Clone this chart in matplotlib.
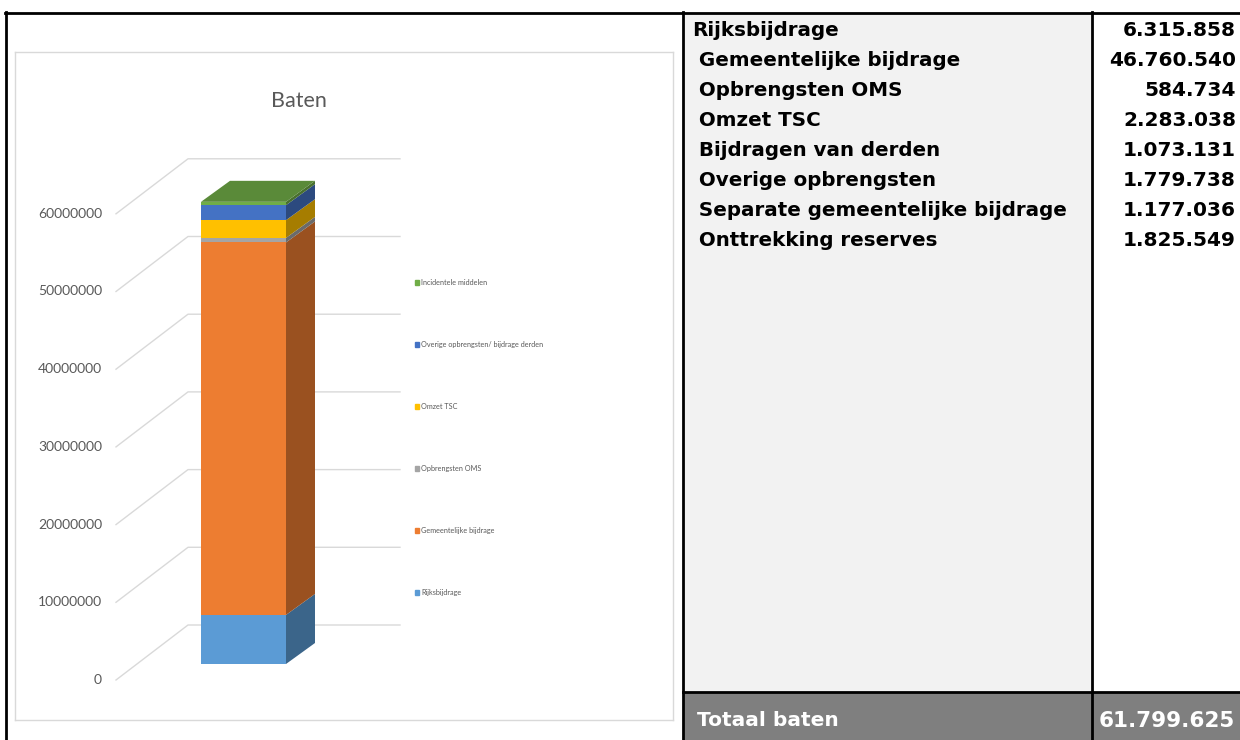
import numpy as np
import matplotlib.pyplot as plt
from matplotlib.patches import Polygon, Rectangle
from matplotlib.colors import to_rgb

series = ['Rijksbijdrage', 'Gemeentelijke bijdrage', 'Opbrengsten OMS', 'Omzet TSC',
          'Overige opbrengsten/ bijdrage derden', 'Incidentele middelen']
series_val = [6315858, 47937576, 584734, 2283038, 1930000, 430000]
colors = ['#5b9bd5', '#ed7d31', '#a5a5a5', '#ffc000', '#4472c4', '#70ad47']
yticks = [0, 10000000, 20000000, 30000000, 40000000, 50000000, 60000000]

tabel_labels = ['Rijksbijdrage', ' Gemeentelijke bijdrage', ' Opbrengsten OMS', ' Omzet TSC',
                ' Bijdragen van derden', ' Overige opbrengsten', ' Separate gemeentelijke bijdrage',
                ' Onttrekking reserves']
tabel_values = ['6.315.858', '46.760.540', '584.734', '2.283.038', '1.073.131', '1.779.738',
                '1.177.036', '1.825.549']
totaal_label = 'Totaal baten'
totaal_value = '61.799.625'

W, H = 1240, 740
fig = plt.figure(figsize=(W / 100, H / 100), dpi=100)

# achtergrond + tabel in pixelcoordinaten
tab = fig.add_axes([0, 0, 1, 1], zorder=0)
tab.set_xlim(0, W)
tab.set_ylim(H, 0)
tab.axis('off')
tab.add_patch(Rectangle((683, 12), 409, 680, fc='#f2f2f2', ec='none'))
tab.add_patch(Rectangle((683, 692), W - 683, 48, fc='#7f7f7f', ec='none'))
for (xa, ya, xb, yb) in [(5, 13, W, 13), (6, 12, 6, H), (683, 12, 683, H),
                         (1092, 12, 1092, H), (683, 692, W, 692)]:
    tab.plot([xa, xb], [ya, yb], color='black', lw=2, solid_capstyle='projecting')

tfont = dict(fontweight='bold', family='DejaVu Sans', va='baseline')
for i, (lab, val) in enumerate(zip(tabel_labels, tabel_values)):
    y = 36 + 30 * i
    tab.text(692, y, lab, ha='left', fontsize=14.3, color='black', **tfont)
    tab.text(1236, y, val, ha='right', fontsize=14.5, color='black', **tfont)
tab.text(697, 726, totaal_label, ha='left', fontsize=14.5, color='white', **tfont)
tab.text(1235, 727, totaal_value, ha='right', fontsize=15.5, color='white', **tfont)

# grafiek: x in pixels, y in euro's (achterwand)
x0, x1, ytop, ybot = 15, 673, 52, 720
wall_y = 625          # pixel van 0 op de achterwand
ppu = 77.7 / 1e7      # pixels per euro
ax = fig.add_axes([x0 / W, 1 - ybot / H, (x1 - x0) / W, (ybot - ytop) / H], zorder=1)
ax.set_xlim(x0, x1)
ax.set_ylim(-(ybot - wall_y) / ppu, (wall_y - ytop) / ppu)
ax.set_xticks([])
ax.set_yticks([])
for sp in ax.spines.values():
    sp.set_color('#d9d9d9')
    sp.set_linewidth(1)

grid_c = '#d9d9d9'
floor_dx, floor_dy = 72, 55 / ppu
for t in yticks:
    ax.plot([116, 116 + floor_dx, 400], [t - floor_dy, t, t], color=grid_c, lw=1, zorder=1)
    ax.text(102, t - floor_dy, str(t), ha='right', va='center', fontsize=10,
            family='Lato', color='#595959')

# 3D-staaf
bx, bw = 201, 85
front = 39 / ppu
ddx, ddy = 29, 21 / ppu
bottom = np.concatenate([[0], np.cumsum(series_val)[:-1]]) - front
ax.bar(bx + bw / 2, series_val, width=bw, bottom=bottom, color=colors, zorder=3)
for b, v, c in zip(bottom, series_val, colors):
    side = np.array(to_rgb(c)) * 0.65
    ax.add_patch(Polygon([(bx + bw, b), (bx + bw + ddx, b + ddy), (bx + bw + ddx, b + v + ddy),
                          (bx + bw, b + v)], closed=True, fc=side, ec='none', zorder=3))
top = bottom[-1] + series_val[-1]
ax.add_patch(Polygon([(bx, top), (bx + ddx, top + ddy), (bx + bw + ddx, top + ddy),
                      (bx + bw, top)], closed=True, fc=np.array(to_rgb(colors[-1])) * 0.8,
                     ec='none', zorder=3))

fig.text(299 / W, 1 - 101 / H, 'Baten', ha='center', va='center', fontsize=15.5,
         family='Lato', color='#595959')

handles = [Rectangle((0, 0), 1, 1, color=c) for c in colors][::-1]
ax.legend(handles, series[::-1], loc='upper left', bbox_to_anchor=(411 / W, 1 - 275 / H),
          bbox_transform=fig.transFigure, frameon=False, labelspacing=7.63,
          handlelength=0.6, handleheight=0.7, handletextpad=0.3, borderpad=0,
          labelcolor='#595959', prop={'family': 'Lato', 'size': 5.2})

plt.savefig('out.png', dpi=100)
